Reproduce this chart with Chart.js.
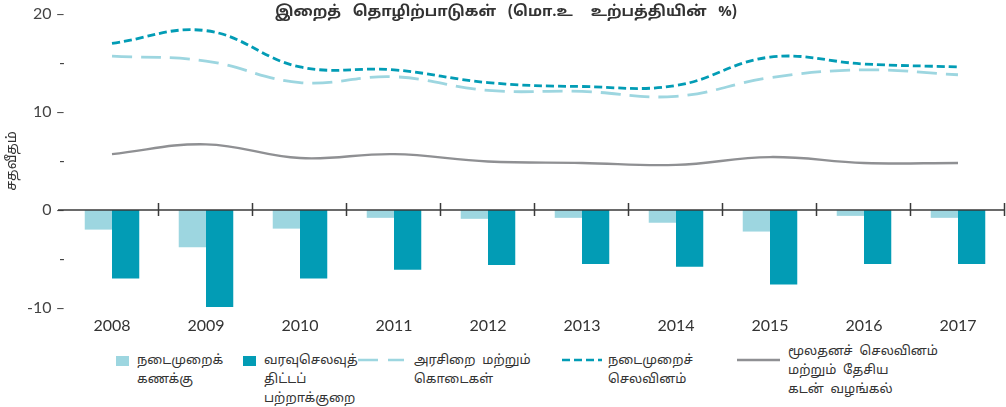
<!DOCTYPE html>
<html>
<head>
<meta charset="utf-8">
<script src="https://cdn.jsdelivr.net/npm/chart.js@4"></script>
<style>
  body { margin: 0; background: #fff; font-family: "Noto Sans Tamil", "Lato", "Noto Sans", sans-serif; color: #333; }
  #wrap { position: relative; width: 1006px; height: 407px; }
  #chart-box { position: absolute; left: 0; top: 0; width: 1006px; height: 340px; }
  #title { position: absolute; top: 3px; left: 506px; transform: translateX(-50%); font-size: 15px; font-weight: bold; white-space: pre; word-spacing: 2px; }
  .item { position: absolute; font-size: 13px; line-height: 19px; }
  .sw { position: absolute; }
  .txt { position: absolute; white-space: pre; }
</style>
</head>
<body>
<div id="wrap">
  <div id="chart-box"><canvas id="fiscal-chart"></canvas></div>
  <div id="title">இறைத்  தொழிற்பாடுகள்  (மொ.உ   உற்பத்தியின்  %)</div>
  <div id="legend"></div>
</div>
<script>
const years = ['2008','2009','2010','2011','2012','2013','2014','2015','2016','2017'];
const currentAccount = [-2.0, -3.8, -1.9, -0.8, -0.9, -0.8, -1.3, -2.2, -0.6, -0.8];
const budgetDeficit = [-7.0, -9.9, -7.0, -6.1, -5.6, -5.5, -5.8, -7.6, -5.5, -5.5];
const revenueGrants = [15.7, 15.2, 13.0, 13.6, 12.2, 12.1, 11.6, 13.5, 14.3, 13.8];
const currentExpenditure = [17.0, 18.3, 14.6, 14.3, 13.0, 12.6, 12.7, 15.6, 14.9, 14.6];
const capitalExpenditure = [5.7, 6.7, 5.3, 5.7, 4.95, 4.8, 4.6, 5.4, 4.8, 4.8];
const majorTicks = [20, 10, 0, -10];

const LIGHT = '#9dd6e0', DARK = '#029cb5', GREY = '#8f9093';

// line at zero with small ticks between years
const zeroAxis = {
  id: 'zeroAxis',
  afterDatasetsDraw(chart) {
    const { ctx, scales: { x, y }, chartArea } = chart;
    const y0 = y.getPixelForValue(0);
    const step = x.getPixelForValue(1) - x.getPixelForValue(0);
    ctx.save();
    ctx.strokeStyle = '#3a3a3a';
    ctx.lineWidth = 1.5;
    ctx.beginPath();
    ctx.moveTo(58, y0);
    ctx.lineTo(chartArea.right, y0);
    for (let i = 0; i < years.length; i++) {
      const px = Math.round(x.getPixelForValue(i) + step / 2) - 0.5;
      ctx.moveTo(px, y0 - 7);
      ctx.lineTo(px, y0 + 6);
    }
    ctx.stroke();
    ctx.restore();
  }
};

const chart = new Chart(document.getElementById('fiscal-chart'), {
  data: {
    labels: years,
    datasets: [
      { type: 'line', label: 'நடைமுறைச் செலவினம்', data: currentExpenditure, borderColor: DARK, borderWidth: 2.8, borderDash: [8, 4], tension: 0.4, pointRadius: 0, order: 1 },
      { type: 'line', label: 'அரசிறை மற்றும் கொடைகள்', data: revenueGrants, borderColor: LIGHT, borderWidth: 2.8, borderDash: [20, 9], tension: 0.4, pointRadius: 0, order: 2 },
      { type: 'line', label: 'மூலதனச் செலவினம் மற்றும் தேசிய கடன் வழங்கல்', data: capitalExpenditure, borderColor: GREY, borderWidth: 2.4, tension: 0.4, pointRadius: 0, order: 3 },
      { type: 'bar', label: 'நடைமுறைக் கணக்கு', data: currentAccount, backgroundColor: LIGHT, categoryPercentage: 0.58, barPercentage: 1, order: 4 },
      { type: 'bar', label: 'வரவுசெலவுத் திட்டப் பற்றாக்குறை', data: budgetDeficit, backgroundColor: DARK, categoryPercentage: 0.58, barPercentage: 1, order: 5 }
    ]
  },
  options: {
    responsive: true,
    maintainAspectRatio: false,
    animation: false,
    layout: { padding: { top: 14, right: 1, left: 0, bottom: 0 } },
    plugins: { legend: { display: false }, tooltip: { enabled: false } },
    scales: {
      x: {
        grid: { display: false, drawTicks: false },
        border: { display: false },
        ticks: { color: '#333', font: { family: 'Lato', size: 16 }, padding: 8 },
        afterFit(s) { s.height = 32; }
      },
      y: {
        min: -10, max: 20,
        grid: { display: false, drawTicks: false },
        border: { display: false },
        ticks: {
          stepSize: 5, padding: 0, color: '#444',
          font: { family: 'Lato', size: 16 },
          callback: v => majorTicks.includes(v) ? v + ' –' : '-'
        },
        title: { display: true, text: 'சதவீதம்', color: '#333', font: { family: 'Noto Sans Tamil', size: 14 }, padding: { top: 5, bottom: 0 } },
        afterFit(s) { s.width = 65; }
      }
    }
  },
  plugins: [zeroAxis]
});

// html legend, built from the datasets
const legendSpots = [
  { ds: 3, left: 116, top: 352, kind: 'box', lines: ['நடைமுறைக்', 'கணக்கு'] },
  { ds: 4, left: 243, top: 352, kind: 'box', lines: ['வரவுசெலவுத்', 'திட்டப்', 'பற்றாக்குறை'] },
  { ds: 1, left: 358, top: 352, kind: 'line', lines: ['அரசிறை  மற்றும்', 'கொடைகள்'] },
  { ds: 0, left: 562, top: 352, kind: 'line', lines: ['நடைமுறைச்', 'செலவினம்'] },
  { ds: 2, left: 737, top: 343, kind: 'line', lines: ['மூலதனச்  செலவினம்', 'மற்றும்  தேசிய', 'கடன்  வழங்கல்'] }
];
const legendEl = document.getElementById('legend');
legendSpots.forEach(sp => {
  const ds = chart.data.datasets[sp.ds];
  const item = document.createElement('div');
  item.className = 'item';
  item.style.left = sp.left + 'px';
  item.style.top = sp.top + 'px';
  let sw, textLeft;
  if (sp.kind === 'box') {
    sw = `<div class="sw" style="left:0;top:4px;width:13px;height:10px;background:${ds.backgroundColor}"></div>`;
    textLeft = 21;
  } else {
    const w = sp.ds === 0 ? 40 : (sp.ds === 1 ? 46 : 43);
    const dash = ds.borderDash ? `stroke-dasharray="${sp.ds === 1 ? '20,10' : '8,4'}"` : '';
    const yy = sp.ds === 2 ? 17 : 8;
    sw = `<svg class="sw" style="left:0;top:${yy - 3}px" width="${w}" height="6"><line x1="0" y1="3" x2="${w}" y2="3" stroke="${ds.borderColor}" stroke-width="2.6" ${dash}/></svg>`;
    textLeft = sp.ds === 0 ? 46 : (sp.ds === 1 ? 56 : 51);
  }
  item.innerHTML = sw + `<div class="txt" style="left:${textLeft}px;top:0">${sp.lines.join('<br>')}</div>`;
  legendEl.appendChild(item);
});
</script>
</body>
</html>
